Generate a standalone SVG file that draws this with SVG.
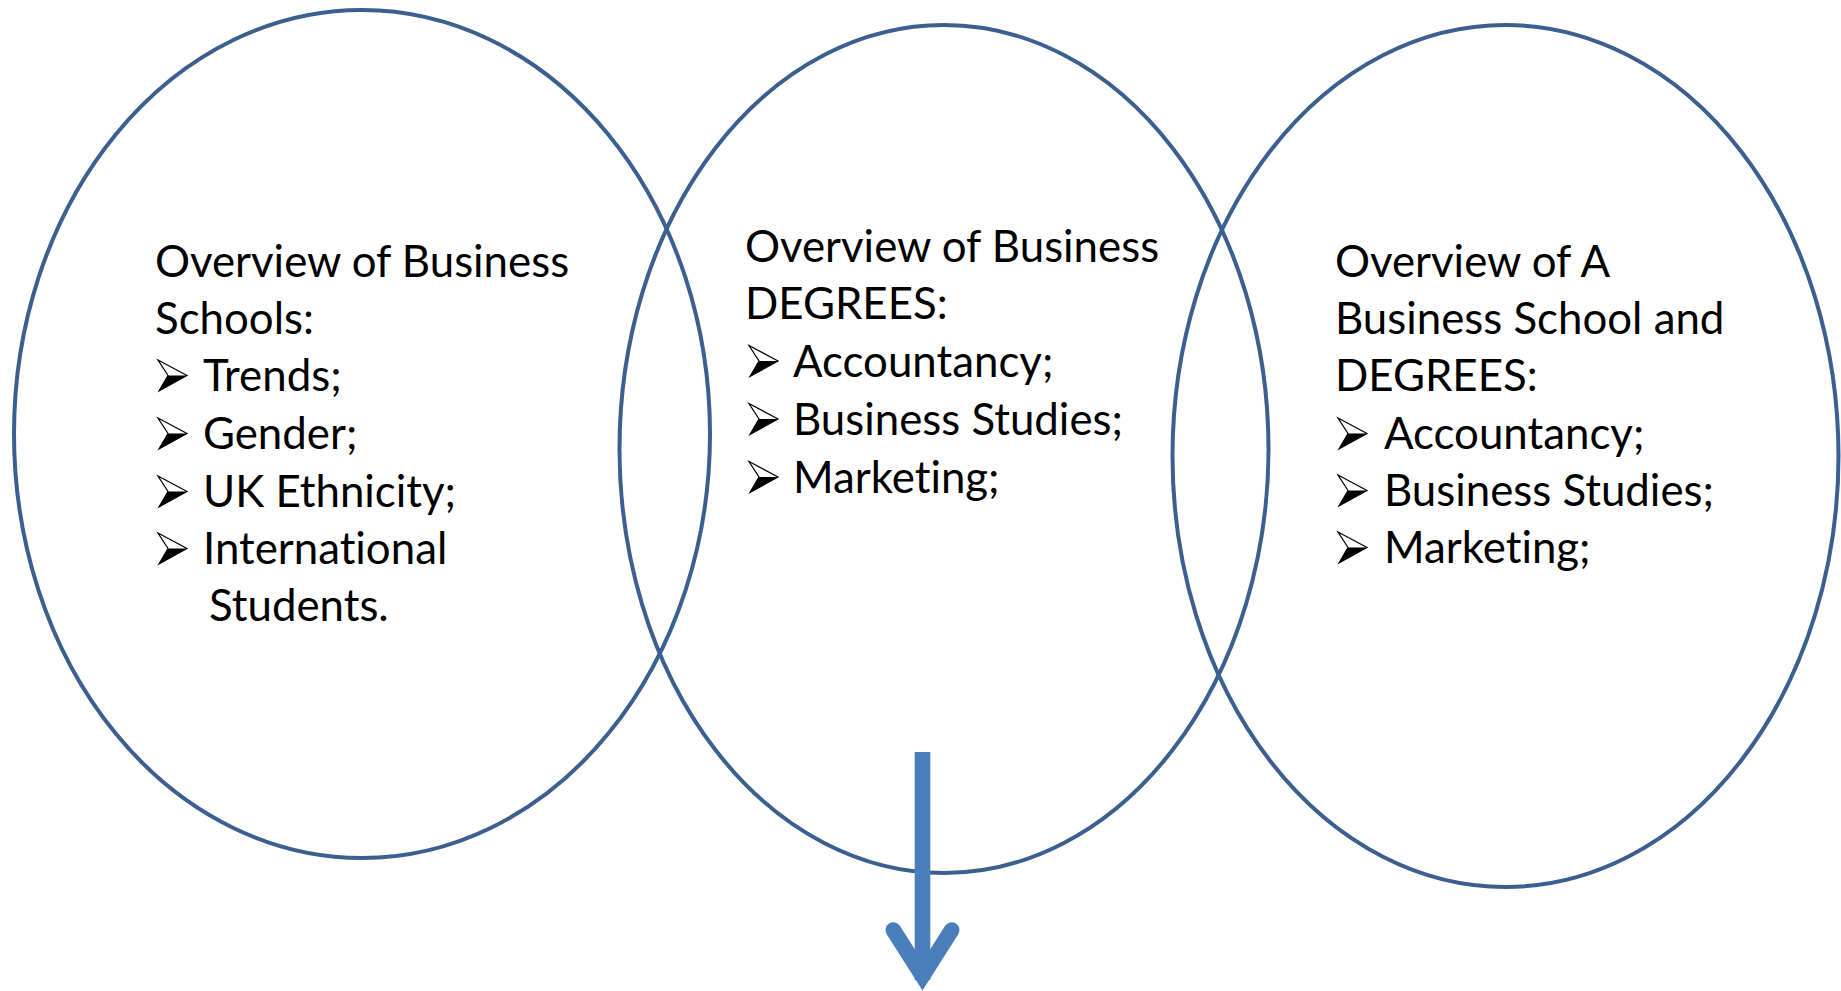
<svg xmlns="http://www.w3.org/2000/svg" xmlns:xlink="http://www.w3.org/1999/xlink" width="1841" height="991" viewBox="0 0 1841 991">
  <style>
    .ring { fill: none; stroke: #3B5F8E; stroke-width: 4; }
    .label { font-family: Lato, "Open Sans", "Liberation Sans", sans-serif; font-size: 43.8px; fill: #000000; font-variant-ligatures: none; font-feature-settings: "liga" 0, "dlig" 0; }
    .flow { fill: none; stroke: #4A7EBB; stroke-width: 15.6; }
  </style>
  <defs>
    <!-- arrowhead bullet: outlined upper half, solid lower half -->
    <g id="bullet">
      <polygon points="0,0 29,15.5 1,31 10,15.5" fill="#ffffff" stroke="#000000" stroke-width="1.2" stroke-linejoin="miter"/>
      <polygon points="10,15.5 29,15.5 1,31" fill="#000000"/>
    </g>
  </defs>

  <rect x="0" y="0" width="1841" height="991" fill="#ffffff"/>

  <!-- left circle: business schools -->
  <g id="node-schools">
    <ellipse class="ring" cx="362" cy="434" rx="348" ry="424"/>
    <text class="label" x="155" y="277">Overview of Business</text>
    <text class="label" x="155" y="334">Schools:</text>
    <use xlink:href="#bullet" x="158" y="360"/>
    <text class="label" x="203" y="391">Trends;</text>
    <use xlink:href="#bullet" x="158" y="418"/>
    <text class="label" x="203" y="449">Gender;</text>
    <use xlink:href="#bullet" x="158" y="476"/>
    <text class="label" x="203" y="507">UK Ethnicity;</text>
    <use xlink:href="#bullet" x="158" y="533"/>
    <text class="label" x="203" y="564">International</text>
    <text class="label" x="209" y="621">Students.</text>
  </g>

  <!-- middle circle: business degrees -->
  <g id="node-degrees">
    <ellipse class="ring" cx="944" cy="449" rx="324.5" ry="424"/>
    <text class="label" x="745" y="261.5">Overview of Business</text>
    <text class="label" x="745" y="319">DEGREES:</text>
    <use xlink:href="#bullet" x="749" y="345.5"/>
    <text class="label" x="793" y="376.5">Accountancy;</text>
    <use xlink:href="#bullet" x="749" y="403.5"/>
    <text class="label" x="793" y="434.5">Business Studies;</text>
    <use xlink:href="#bullet" x="749" y="461.5"/>
    <text class="label" x="793" y="492.5">Marketing;</text>
  </g>

  <!-- right circle: one school and its degrees -->
  <g id="node-school-degrees">
    <ellipse class="ring" cx="1505.5" cy="456" rx="333" ry="431"/>
    <text class="label" x="1335" y="277">Overview of A</text>
    <text class="label" x="1335" y="334">Business School and</text>
    <text class="label" x="1335" y="391">DEGREES:</text>
    <use xlink:href="#bullet" x="1338" y="418"/>
    <text class="label" x="1384" y="449">Accountancy;</text>
    <use xlink:href="#bullet" x="1338" y="475"/>
    <text class="label" x="1384" y="506">Business Studies;</text>
    <use xlink:href="#bullet" x="1338" y="532"/>
    <text class="label" x="1384" y="563">Marketing;</text>
  </g>

  <!-- downward arrow out of the middle circle -->
  <g id="connectors">
    <line class="flow" x1="922.5" y1="752" x2="922.5" y2="980"/>
    <polyline class="flow" points="893.3,930 922.5,976 951.7,930" stroke-linecap="round" stroke-linejoin="miter"/>
  </g>
</svg>
